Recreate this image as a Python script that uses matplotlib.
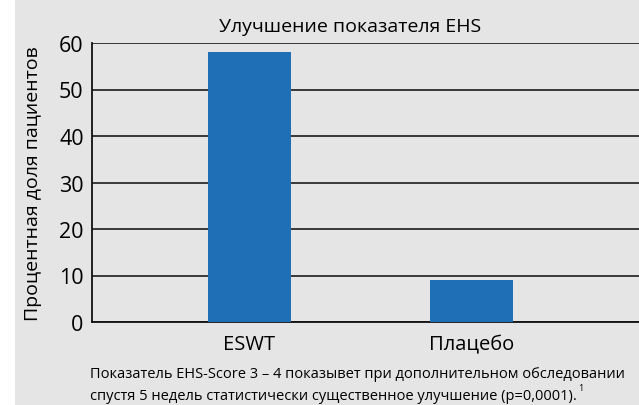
import matplotlib
matplotlib.use("Agg")
import matplotlib.pyplot as plt
from matplotlib import font_manager

# data
categories = ["ESWT", "Плацебо"]
values = [58, 9]
yticks = [0, 10, 20, 30, 40, 50, 60]

title = "Улучшение показателя EHS"
ylabel = "Процентная доля пациентов"
note_1 = "Показатель EHS-Score 3 – 4 показывет при дополнительном обследовании"
note_2 = "спустя 5 недель статистически существенное улучшение (p=0,0001)."

names = {f.name for f in font_manager.fontManager.ttflist}
fam = ["Liberation Sans Narrow", "Open Sans", "DejaVu Sans"]
fam = [f for f in fam if f in names] or ["DejaVu Sans"]
plt.rcParams["font.family"] = fam

bg = "#e5e5e5"
W, H = 639, 406
fig = plt.figure(figsize=(W / 100, H / 100), dpi=100, facecolor="white")
# grey panel behind everything except a thin white strip on the left
fig.patches.append(plt.Rectangle((15 / W, 0), 1, 1, transform=fig.transFigure,
                                 facecolor=bg, edgecolor="none", zorder=-1))

left, right, top, bottom = 92, 639, 44, 323
ax = fig.add_axes([left / W, 1 - bottom / H, (right - left) / W, (bottom - top) / H])
ax.set_facecolor(bg)

x = list(range(len(categories)))
ax.bar(x, values, width=0.374, color="#1f6fb7", zorder=3)

ax.set_ylim(0, 60)
ax.set_xlim(-0.71, 1.755)
ax.set_yticks(yticks)
ax.set_xticks(x)
ax.set_xticklabels(categories, fontsize=14.5)
ax.yaxis.grid(True, color="#2b2b2b", linewidth=1.3, zorder=1)
ax.set_axisbelow(True)
ax.tick_params(axis="y", length=0, labelsize=15.5, pad=6)
ax.tick_params(axis="x", length=0, pad=9)
for s in ["top", "right"]:
    ax.spines[s].set_visible(False)
for s in ["left", "bottom"]:
    ax.spines[s].set_color("#111111")
    ax.spines[s].set_linewidth(1.3)

ax.set_ylabel(ylabel, fontsize=14, labelpad=12)
fig.text(350 / W, 1 - 27 / H, title, ha="center", va="center", fontsize=14)

fig.text(90 / W, 1 - 378 / H, note_1, ha="left", va="baseline", fontsize=10.5)
t2 = fig.text(90 / W, 1 - 400 / H, note_2, ha="left", va="baseline", fontsize=10.5)

# small superscript footnote mark right after the second line
fig.canvas.draw()
bb = t2.get_window_extent(fig.canvas.get_renderer())
fig.text(bb.x1 / W + 0.002, 1 - 391 / H, "1", ha="left", va="baseline", fontsize=6.5)

fig.savefig("out.png", dpi=100, facecolor=fig.get_facecolor())
